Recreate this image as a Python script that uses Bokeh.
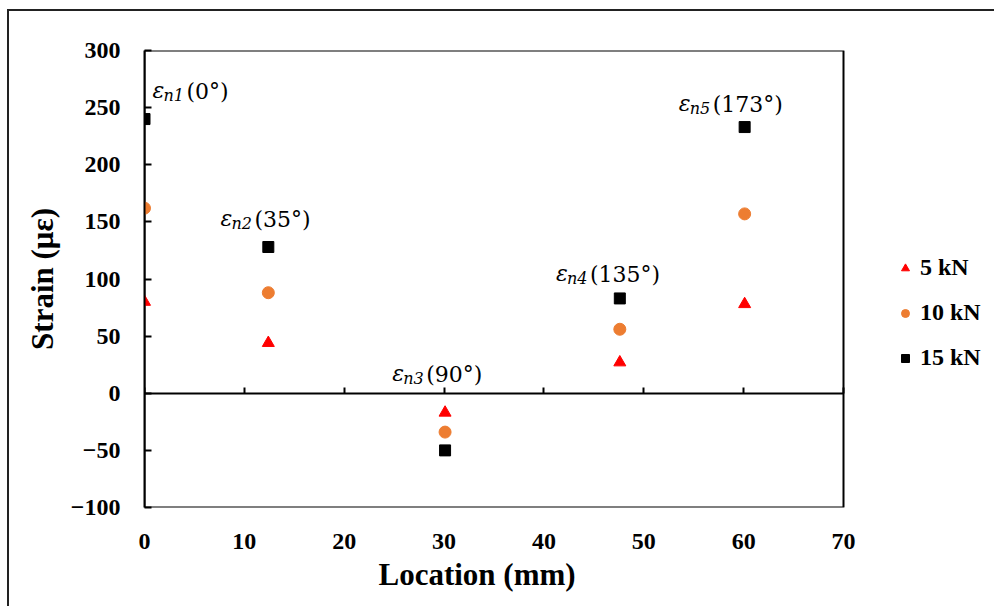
from bokeh.plotting import figure
from bokeh.models import (LinearAxis, Range1d, Legend, LegendItem, ColumnDataSource,
                          FixedTicker, BoxAnnotation, Title)
from bokeh.core.properties import value
from bokeh.embed import file_html
from bokeh.resources import INLINE

# ---- data ----
location = [0, 12.4, 30.1, 47.6, 60.1]
strain_5kN = [80, 44, -17, 27, 78]
strain_10kN = [162, 88, -34, 56, 157]
strain_15kN = [240, 128, -50, 83, 233]
series_names = ["5 kN", "10 kN", "15 kN"]

# annotation labels (gauge name, angle) and their anchor positions
gauge_sub = ["n1", "n2", "n3", "n4", "n5"]
gauge_angle = ["(0°)", "(35°)", "(90°)", "(135°)", "(173°)"]
label_x = [0.8, 7.6, 24.8, 41.2, 53.5]
label_y = [265, 153, 17.5, 105, 254]

x_ticks = [0, 10, 20, 30, 40, 50, 60, 70]
y_ticks = [-100, -50, 0, 50, 100, 150, 200, 250, 300]
X_MIN, X_MAX = 0, 70
Y_MIN, Y_MAX = -100, 300

SERIF = "Liberation Serif"
TICK_FS = "24px"
TITLE_FS = "31px"

# layout: the plot box (0..70) is 699 px wide; the frame extends further right
# so that the legend can sit beside the box
W, H = 994, 606
LEFT, TOP, RIGHT, BOTTOM = 144, 50, 4, 99
BOX_W = 699
frame_w = W - LEFT - RIGHT
x_end = X_MAX * frame_w / BOX_W

p = figure(width=W, height=H, output_backend="svg", toolbar_location=None,
           x_range=Range1d(X_MIN, x_end), y_range=Range1d(Y_MIN, Y_MAX),
           x_axis_location=None, y_axis_location=None,
           min_border_left=LEFT, min_border_top=TOP, min_border_right=RIGHT,
           min_border_bottom=BOTTOM)
p.border_fill_color = None
p.background_fill_color = None
p.outline_line_color = None
p.xgrid.visible = False
p.ygrid.visible = False
p.styles = {
    "background": "linear-gradient(#222,#222) 7px 9px / calc(100% - 7px) 2px no-repeat, "
                  "linear-gradient(#222,#222) 7px 9px / 2px calc(100% - 9px) no-repeat, white"
}

# plot box
p.add_layout(BoxAnnotation(left=X_MIN, right=X_MAX, bottom=Y_MIN, top=Y_MAX,
                           fill_color=None, fill_alpha=0, line_color="black",
                           line_width=2, line_alpha=1, level="underlay"))

# bottom axis with labels only
xb = LinearAxis(ticker=FixedTicker(ticks=x_ticks), bounds=(X_MIN, X_MAX))
xb.axis_line_color = None
xb.major_tick_line_color = None
xb.minor_tick_line_color = None
xb.major_label_standoff = 20
xb.major_label_text_font = SERIF
xb.major_label_text_font_style = "bold"
xb.major_label_text_font_size = TICK_FS
xb.major_label_text_color = "black"
p.add_layout(xb, "below")

# x-axis title, centred under the plot box (not under the wider frame)
xtitle = Title(text="Location (mm)", align="left", offset=234, standoff=6,
               text_font=SERIF, text_font_style="bold", text_font_size=TITLE_FS,
               text_color="black")
p.add_layout(xtitle, "below")

# axis crossing at y = 0 (line and ticks only)
x0 = LinearAxis(ticker=FixedTicker(ticks=x_ticks), fixed_location=0, bounds=(X_MIN, X_MAX))
x0.axis_line_color = "black"
x0.axis_line_width = 2
x0.major_tick_in = 6
x0.major_tick_out = 0
x0.major_tick_line_color = "black"
x0.major_tick_line_width = 2
x0.minor_tick_line_color = None
x0.major_label_text_font_size = "0px"
x0.major_label_text_color = None
p.add_layout(x0, "below")

yl = LinearAxis(ticker=FixedTicker(ticks=y_ticks))
yl.axis_line_color = "black"
yl.axis_line_width = 2
yl.major_tick_in = 7
yl.major_tick_out = 0
yl.major_tick_line_color = "black"
yl.major_tick_line_width = 2
yl.minor_tick_line_color = None
yl.major_label_standoff = 24
yl.major_label_text_font = SERIF
yl.major_label_text_font_style = "bold"
yl.major_label_text_font_size = TICK_FS
yl.major_label_text_color = "black"
yl.major_label_overrides = {-100: "\u2212100", -50: "\u221250"}
yl.axis_label = "Strain (με)"
yl.axis_label_text_font = SERIF
yl.axis_label_text_font_style = "bold"
yl.axis_label_text_font_size = TITLE_FS
yl.axis_label_text_color = "black"
yl.axis_label_standoff = 8
p.add_layout(yl, "left")

r5 = p.scatter(location, strain_5kN, marker="triangle", size=12, color="#FF0000")
r10 = p.scatter(location, strain_10kN, marker="circle", size=12, color="#ED7D31")
r15 = p.scatter(location, strain_15kN, marker="square", size=11, color="black")

# annotations: ε + subscript + angle
src = ColumnDataSource(dict(x=label_x, y=label_y, eps=["ε"] * len(label_x),
                            sub=gauge_sub, ang=gauge_angle))
p.text(x="x", y="y", text="eps", source=src, text_font=value("DejaVu Serif"),
       text_font_style="italic", text_font_size="22px", text_baseline="middle",
       text_align="left", text_color="black")
p.text(x="x", y="y", text="sub", source=src, text_font=value("DejaVu Serif"),
       text_font_style="italic", text_font_size="16px", text_baseline="middle",
       text_align="left", x_offset=11, y_offset=5, text_color="black")
p.text(x="x", y="y", text="ang", source=src, text_font=value("DejaVu Serif"),
       text_font_size="22px", text_baseline="middle",
       text_align="left", x_offset=34, y_offset=1, text_color="black")

legend = Legend(items=[LegendItem(label=series_names[0], renderers=[r5]),
                       LegendItem(label=series_names[1], renderers=[r10]),
                       LegendItem(label=series_names[2], renderers=[r15])],
                location=(751, 136))
legend.border_line_color = None
legend.background_fill_color = None
legend.background_fill_alpha = 0
legend.padding = 0
legend.margin = 0
legend.spacing = 18
legend.glyph_width = 20
legend.glyph_height = 26
legend.label_height = 26
legend.label_standoff = 5
legend.label_text_font = SERIF
legend.label_text_font_style = "bold"
legend.label_text_font_size = "24px"
legend.label_text_color = "black"
p.add_layout(legend, "center")

open("out.html", "w").write(file_html(p, INLINE))
